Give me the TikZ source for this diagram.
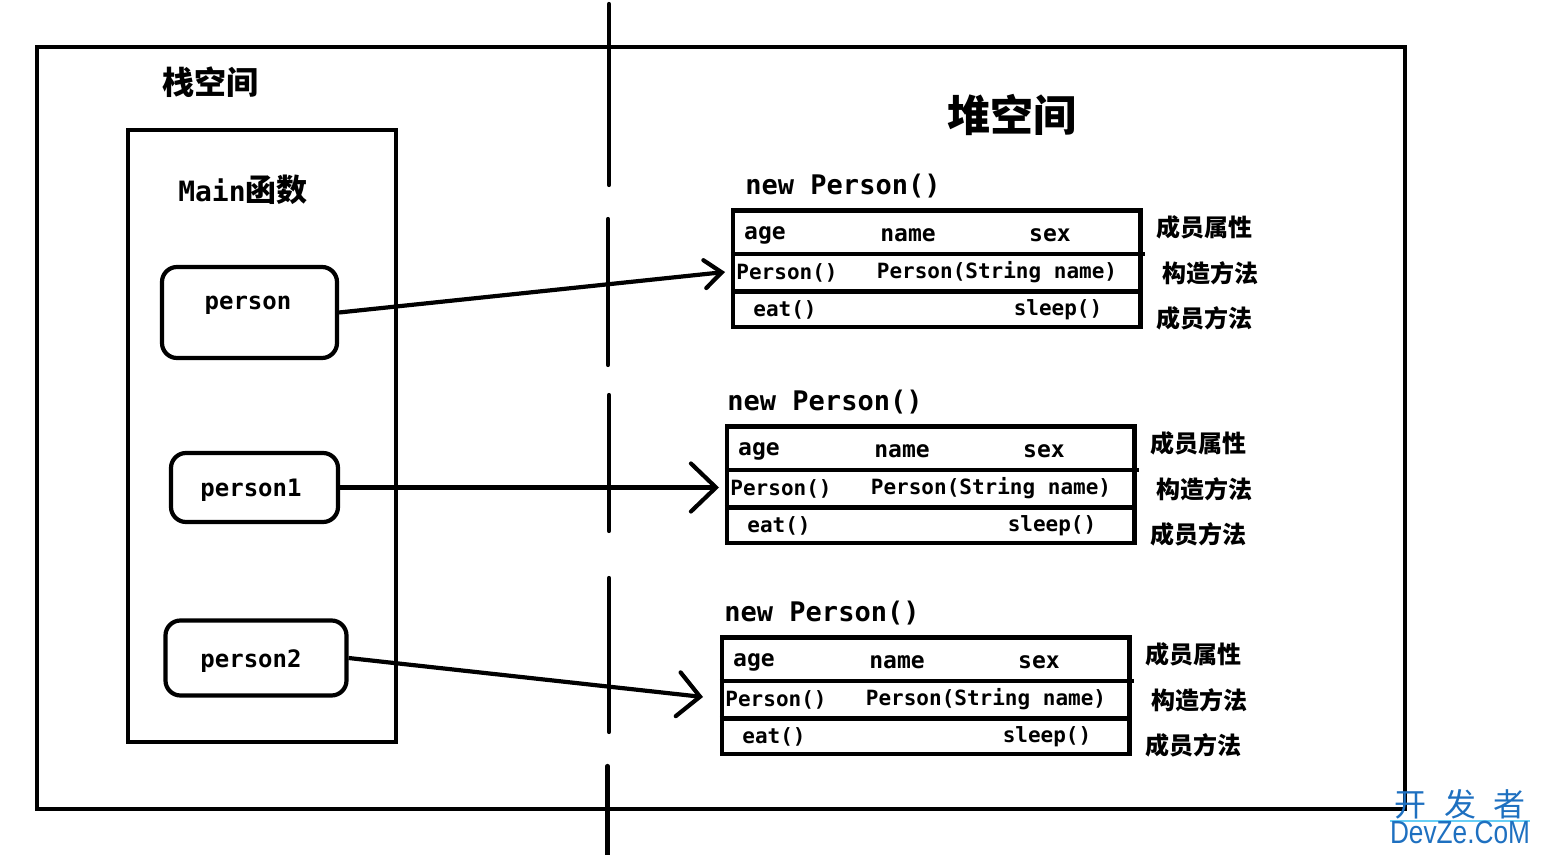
\documentclass[tikz,border=0pt]{standalone}
\usepackage{fontspec}
\setmainfont{DejaVu Sans Mono}
\newfontfamily\cjk{Noto Sans CJK SC}
\newfontfamily\wmlatin{Liberation Sans}
\usetikzlibrary{arrows.meta}
\definecolor{wmblue}{RGB}{30,112,192}
\tikzset{
  thickline/.style={line width=2.1pt, line cap=round},
  monotxt/.style={font=\bfseries\fontsize{#1pt}{#1pt}\selectfont, inner sep=0pt, yshift=-1.3pt},
  cjktxt/.style={font=\cjk\bfseries\fontsize{#1pt}{#1pt}\selectfont, inner sep=0pt},
  refbox/.style={draw, line width=2.1pt, rounded corners=7.5pt, inner sep=0pt},
  heapbox/.style={draw, line width=2.2pt, inner sep=0pt},
}
\newcommand\heapobj[4]{%
\begin{scope}[shift={(#2,#3)}]
  \node[monotxt=13.5] (#1title) at (#4,183) {new Person()};
  \node[heapbox, minimum width=203.75pt, minimum height=58.25pt] (#1box) at (936.75,268.75) {};
  \draw[line width=2.2pt] (#1box.west |- 0,254) -- (1145,254);
  \draw[line width=2.4pt] (#1box.west |- 0,291.5) -- (#1box.east |- 0,291.5);
  \node[monotxt=11.5] (#1age) at (765,233) {age};
  \node[monotxt=11.5] (#1name) at (908,233) {name};
  \node[monotxt=11.5] (#1sex) at (1050,233) {sex};
  \node[monotxt=10.5] (#1ctor) at (787,270) {Person()};
  \node[monotxt=10.5] (#1ctorb) at (997,270) {Person(String name)};
  \node[monotxt=10.5] (#1eat) at (785,307) {eat()};
  \node[monotxt=10.5] (#1sleep) at (1058,307) {sleep()};
  \node[cjktxt=12] (#1la) at (1204,227) {成员属性};
  \node[cjktxt=12] (#1lb) at (1210,273) {构造方法};
  \node[cjktxt=12] (#1lc) at (1204,318) {成员方法};
\end{scope}}
\begin{document}
\begin{tikzpicture}[x=0.5pt,y=-0.5pt]
  \useasboundingbox (0,0) rectangle (1543,855);
  % outer frame
  \node[heapbox, line width=2pt, minimum width=684pt, minimum height=381pt] (frame) at (721,428) {};
  % separator (dashed vertical)
  \draw[thickline] (609,4) -- (609,185);
  \draw[thickline] (608,219) -- (608,365);
  \draw[thickline] (609,395) -- (609,531);
  \draw[thickline] (609,578) -- (609,732);
  \draw[thickline] (607.5,766) -- (607.5,855);
  % stack side
  \node[cjktxt=16] (stacktitle) at (210,82) {栈空间};
  \node[heapbox, line width=2pt, minimum width=134pt, minimum height=306pt] (mainbox) at (262,436) {};
  \node[inner sep=0pt] (maintitle) at (243,190) {{\bfseries\fontsize{14pt}{14pt}\selectfont Main}{\cjk\bfseries\fontsize{15.5pt}{15.5pt}\selectfont 函数}};
  \node[refbox, minimum width=87.5pt, minimum height=45.5pt] (p0) at (249.5,312.5) {};
  \node[monotxt=12] (p0t) at (248,303) {person};
  \node[refbox, minimum width=83.5pt, minimum height=34.5pt] (p1) at (254.5,487.5) {};
  \node[monotxt=12] (p1t) at (251,488) {person1};
  \node[refbox, minimum width=90.5pt, minimum height=37.5pt] (p2) at (256,658) {};
  \node[monotxt=12] (p2t) at (251,658) {person2};
  % heap side
  \node[cjktxt=21.5] (heaptitle) at (1012,115) {堆空间};
  \heapobj{oa}{0}{0}{843}
  \heapobj{ob}{-6}{216}{831}
  \heapobj{oc}{-11}{427}{833}
  % arrows
  \coordinate (ta) at (725,272);
  \coordinate (tb) at (719,487.5);
  \coordinate (tc) at (703,697);
  \draw[line width=2.1pt, -{Straight Barb[length=8.5pt,width=14pt,line cap=round]}] (p0.east) -- (ta);
  \draw[line width=2.1pt, -{Straight Barb[length=12.5pt,width=24pt,line cap=round]}] (p1.east) -- (tb);
  \draw[line width=2.1pt, -{Straight Barb[length=11pt,width=22pt,line cap=round]}] (p2.east) -- (tc);
  % watermark
  \node[font=\cjk\fontsize{16pt}{16pt}\selectfont, text=wmblue, inner sep=0pt] (wma) at (1460,804) {开\hspace{0.55em}发\hspace{0.55em}者};
  \draw[cyan!60, line width=0.6pt] (1390,821) -- (1530,821);
  \node[font=\wmlatin\fontsize{16pt}{16pt}\selectfont, text=wmblue, inner sep=0pt, xscale=0.82] (wmb) at (1460,832) {DevZe.CoM};
\end{tikzpicture}
\end{document}
